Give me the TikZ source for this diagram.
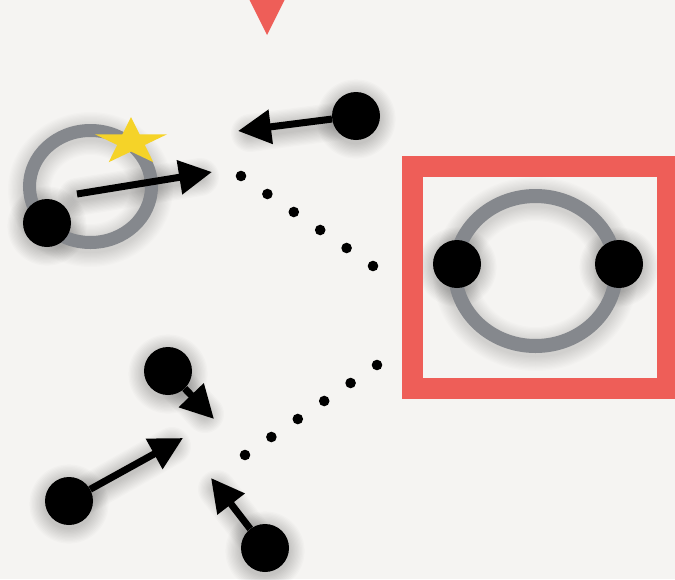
\documentclass[tikz,border=0pt]{standalone}
\usetikzlibrary{arrows.meta,calc}
\definecolor{bgc}{HTML}{F5F4F2}
\definecolor{redc}{HTML}{EE5E58}
\definecolor{ringc}{HTML}{85888D}
\definecolor{starc}{HTML}{F5D328}
\begin{document}
\begin{tikzpicture}[x=1pt,y=-1pt,
  dot/.style={circle,fill=black,minimum size=48pt,inner sep=0pt},
  arr/.style={line width=7pt,-{Triangle[length=33pt,width=33pt]}},
  ringline/.style={draw=ringc,line width=13pt},
  dotsh/.style={fill=black,opacity=0.016},
  linesh/.style={draw=black,opacity=0.016,line cap=round},
]
\fill[bgc] (0,0) rectangle (675,579);
\useasboundingbox (0,0) rectangle (675,579);

% top marker
\fill[redc] (249,-1) -- (285,-1) -- (267,35) -- cycle;

% coordinates
\coordinate (s1) at (77,194);
\coordinate (t1) at (212,172);
\coordinate (t2) at (238,131);
\coordinate (ta) at (214,419);
\coordinate (tb) at (183,438);
\coordinate (tc) at (211,478);
\coordinate (u0) at (241,176);
\coordinate (u1) at (373,266);
\coordinate (l0) at (245,455);
\coordinate (l1) at (377,365);

% soft shadows
\foreach \k in {1,...,12}{
  \draw[black,opacity=0.012,line width={13+2.5*\k}] (90.5,189.5) ellipse (61 and 56);
  \draw[black,opacity=0.012,line width={14+2.5*\k}] (535.5,274) ellipse (80.5 and 75);
  \foreach \p in {(47,226),(356,119),(457,267),(619,267),(168,374),(69,504),(265,551)}
    \fill[dotsh] \p circle ({24+1.3*\k});
  \draw[linesh,line width={8+2.5*\k}] (77,197) -- (200,177);
  \draw[linesh,line width={8+2.5*\k}] (356,119) -- (250,133);
  \draw[linesh,line width={8+2.5*\k}] (168,374) -- (205,414);
  \draw[linesh,line width={8+2.5*\k}] (69,504) -- (172,446);
  \draw[linesh,line width={8+2.5*\k}] (265,551) -- (217,489);
}

% left ring
\draw[ringline] (90.5,186.5) ellipse (61 and 56);
\fill[starc,shift={(131,142)},xscale=38,yscale=-25]
  (90:1) -- (126:0.382) -- (162:1) -- (198:0.382) -- (234:1) -- (270:0.382)
  -- (306:1) -- (342:0.382) -- (18:1) -- (54:0.382) -- cycle;
\node[dot] (d1) at (47,223) {};
\draw[arr] (s1) -- (t1);

% top right
\node[dot] (d2) at (356,116) {};
\draw[arr] (d2) -- (t2);

% dotted lines
\foreach \i in {0,...,5}{
  \fill[black] ($(u0)!\i/5!(u1)$) circle (5.3);
  \fill[black] ($(l0)!\i/5!(l1)$) circle (5.3);
}

% right box
\draw[redc,line width=21pt] (412.5,166.5) rectangle (667.5,388.5);
\draw[draw=ringc,line width=14pt] (535.5,271) ellipse (80.5 and 75);
\node[dot] (r1) at (457,264) {};
\node[dot] (r2) at (619,264) {};

% bottom
\node[dot] (da) at (168,371) {};
\node[dot] (db) at (69,501) {};
\node[dot] (dc) at (265,548) {};
\draw[arr] (da) -- (ta);
\draw[arr] (db) -- (tb);
\draw[arr] (dc) -- (tc);
\end{tikzpicture}
\end{document}
